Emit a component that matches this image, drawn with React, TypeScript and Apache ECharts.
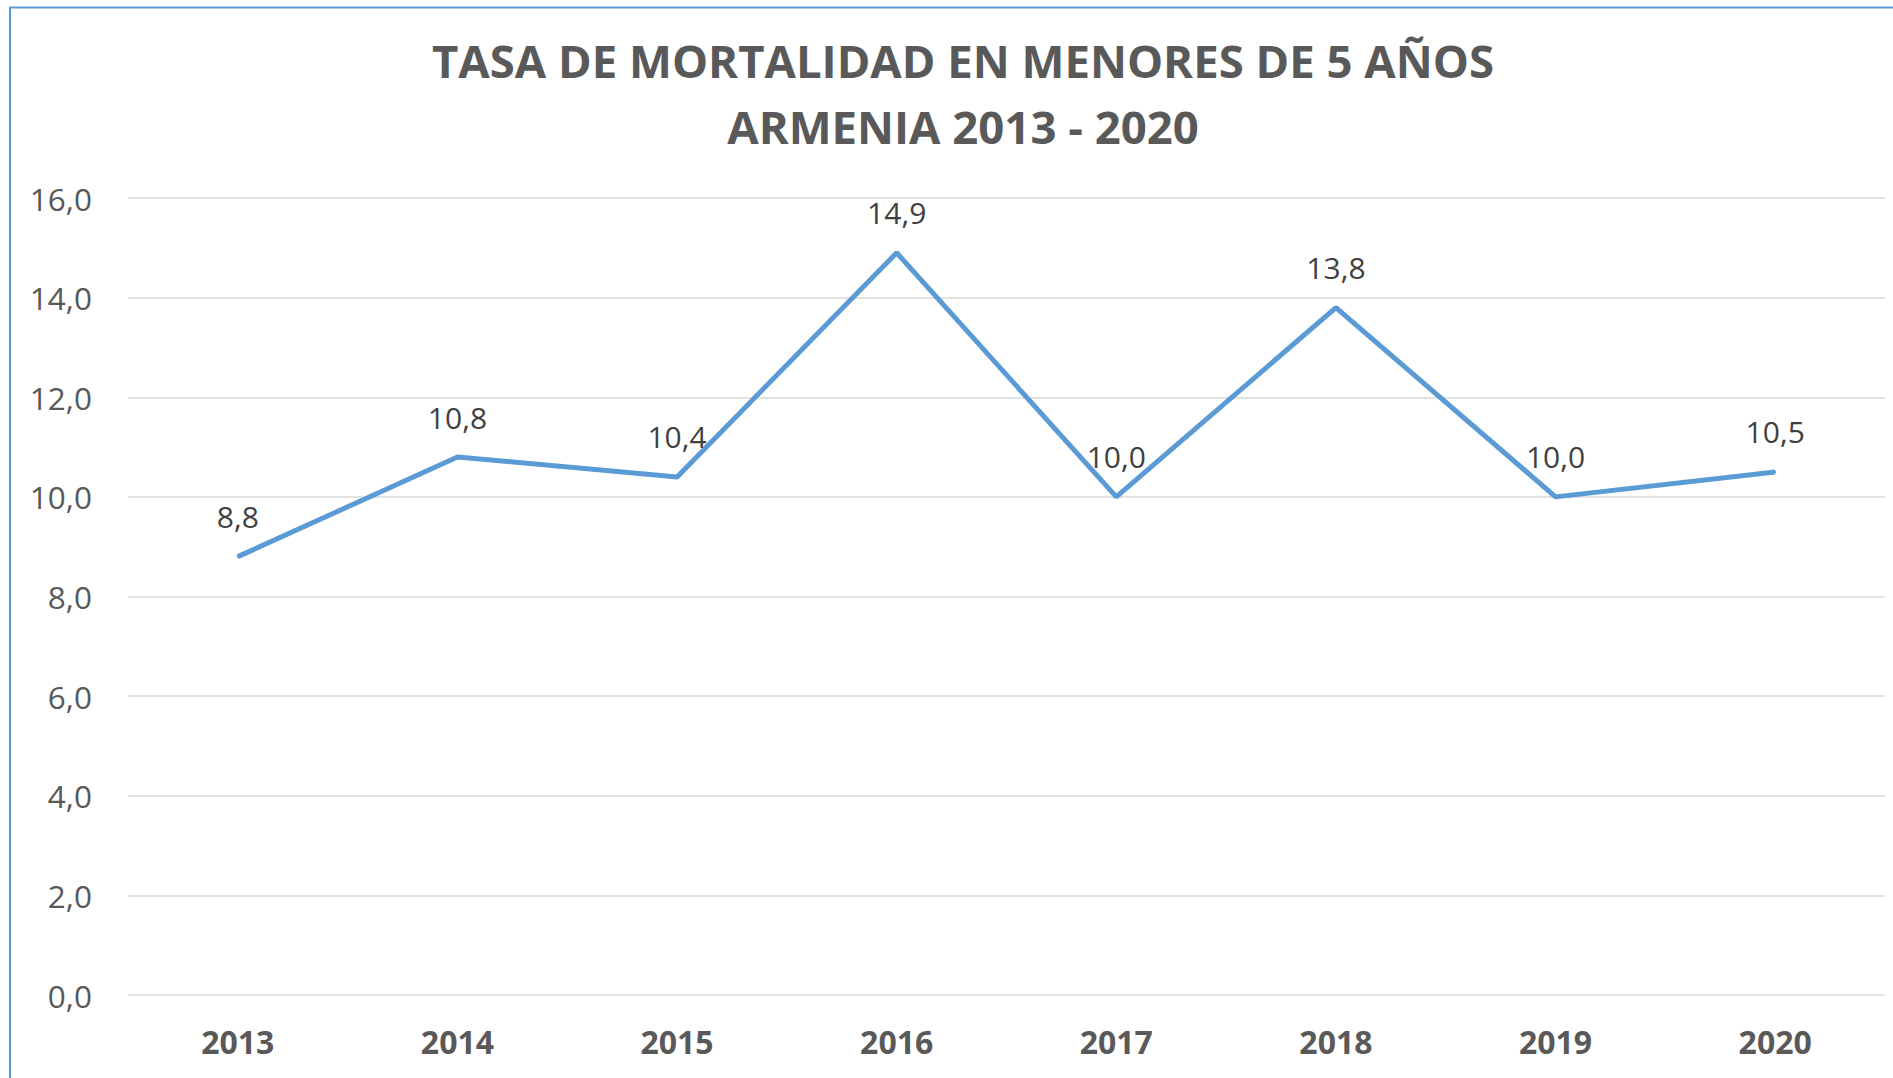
import React, { useEffect, useRef } from "react";
import * as echarts from "echarts";

const titleLines = ["TASA DE MORTALIDAD EN MENORES DE 5 AÑOS", "ARMENIA 2013 - 2020"];
const years = ["2013", "2014", "2015", "2016", "2017", "2018", "2019", "2020"];
const rates = [8.8, 10.8, 10.4, 14.9, 10.0, 13.8, 10.0, 10.5];
const yMin = 0;
const yMax = 16;
const yStep = 2;

const fmt = (v: number) => v.toFixed(1).replace(".", ",");

export default function App() {
  const ref = useRef<HTMLDivElement>(null);
  useEffect(() => {
    if (!ref.current) return;
    const chart = echarts.init(ref.current, undefined, { renderer: "svg" });
    chart.setOption({
      animation: false,
      backgroundColor: "#ffffff",
      graphic: [
        {
          type: "rect",
          shape: { x: 10, y: 7.5, width: 1920, height: 1100 },
          style: { fill: "none", stroke: "#5B9BD5", lineWidth: 2 },
          silent: true,
        },
        {
          type: "text",
          x: 963,
          y: 60,
          style: {
            text: titleLines[0],
            align: "center",
            verticalAlign: "middle",
            fontFamily: "Open Sans",
            fontWeight: "bold",
            fontSize: 45.5,
            fill: "#595959",
          },
        },
        {
          type: "text",
          x: 963,
          y: 126,
          style: {
            text: titleLines[1],
            align: "center",
            verticalAlign: "middle",
            fontFamily: "Open Sans",
            fontWeight: "bold",
            fontSize: 45.5,
            fill: "#595959",
          },
        },
      ],
      grid: { left: 128, right: 8, top: 198, bottom: 83, containLabel: false },
      xAxis: {
        type: "category",
        data: years,
        boundaryGap: true,
        axisLine: { show: false },
        axisTick: { show: false },
        axisLabel: {
          margin: 30,
          fontFamily: "Open Sans",
          fontWeight: "bold",
          fontSize: 32,
          color: "#595959",
        },
      },
      yAxis: {
        type: "value",
        min: yMin,
        max: yMax,
        interval: yStep,
        axisLine: { show: false },
        axisTick: { show: false },
        splitLine: { lineStyle: { color: "#d9d9d9", width: 1.5 } },
        axisLabel: {
          margin: 36,
          fontFamily: "Open Sans",
          fontSize: 31.5,
          color: "#595959",
          formatter: (v: number) => fmt(v),
        },
      },
      series: [
        {
          type: "line",
          data: rates,
          symbol: "circle",
          symbolSize: 2,
          showSymbol: true,
          itemStyle: { color: "#5B9BD5" },
          lineStyle: { color: "#5B9BD5", width: 5 },
          label: {
            show: true,
            position: "top",
            distance: 24,
            fontFamily: "Open Sans",
            fontSize: 30,
            color: "#404040",
            formatter: (p: any) => fmt(p.value),
          },
        },
      ],
    });
    return () => chart.dispose();
  }, []);
  return (
    <div
      ref={ref}
      style={{ position: "fixed", left: 0, top: 0, width: 1893, height: 1078, background: "#fff" }}
    />
  );
}
